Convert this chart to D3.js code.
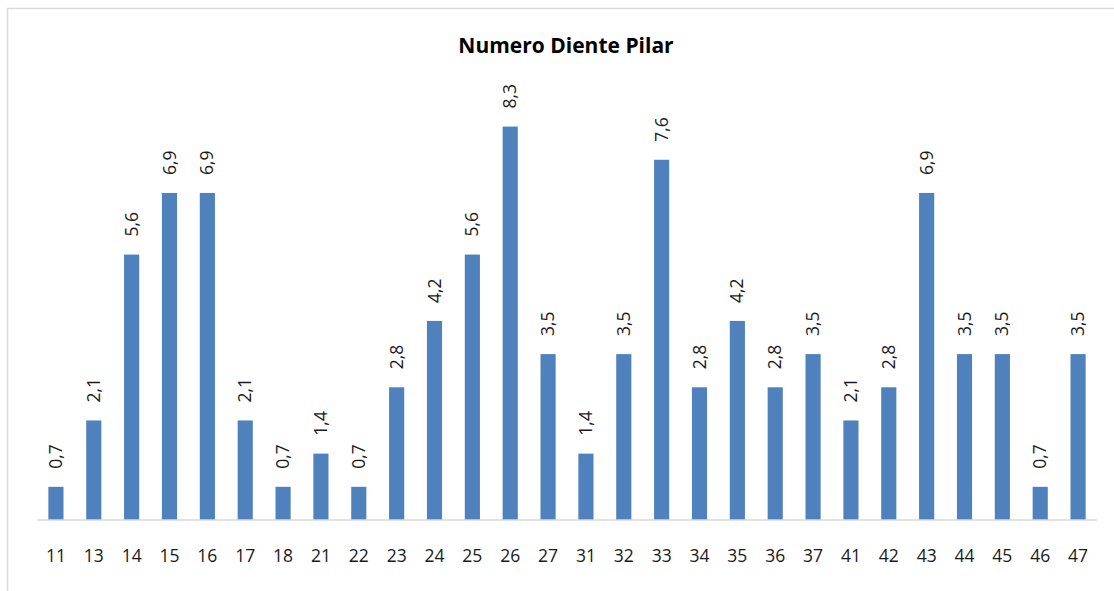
<!DOCTYPE html>
<html>
<head>
<meta charset="utf-8">
<script src="https://cdn.jsdelivr.net/npm/d3@7/dist/d3.min.js"></script>
<style>
  html, body { margin: 0; padding: 0; background: #fff; }
  svg { display: block; }
</style>
</head>
<body>
<svg id="chart" width="1114" height="591"></svg>
<script>
const title = "Numero Diente Pilar";
const categories = ["11","13","14","15","16","17","18","21","22","23","24","25","26","27","31","32","33","34","35","36","37","41","42","43","44","45","46","47"];
const values = [0.7,2.1,5.6,6.9,6.9,2.1,0.7,1.4,0.7,2.8,4.2,5.6,8.3,3.5,1.4,3.5,7.6,2.8,4.2,2.8,3.5,2.1,2.8,6.9,3.5,3.5,0.7,3.5];
const yDomain = [0, 9];

const svg = d3.select("#chart");
const font = "'Open Sans', 'Liberation Sans', sans-serif";

// chart border
svg.append("rect")
  .attr("x", 7.5).attr("y", 8.5)
  .attr("width", 1200).attr("height", 700)
  .attr("fill", "none").attr("stroke", "#d9d9d9").attr("stroke-width", 1.5);

const x = d3.scaleBand().domain(categories).range([37, 1097]).paddingInner(0.6).paddingOuter(0.3);
const y = d3.scaleLinear().domain(yDomain).range([520, 93.4]);

// bars
svg.append("g").selectAll("rect").data(values).join("rect")
  .attr("x", (d, i) => x(categories[i]))
  .attr("width", x.bandwidth())
  .attr("y", d => y(d))
  .attr("height", d => y(0) - y(d))
  .attr("fill", "#4f81bd");

// x axis
const xAxis = svg.append("g").attr("transform", `translate(0,${y(0)})`)
  .call(d3.axisBottom(x).tickSize(0).tickPadding(0));
xAxis.select(".domain").attr("stroke", "#d9d9d9").attr("stroke-width", 1.5)
  .attr("d", "M37,0H1097");
xAxis.selectAll("text")
  .attr("y", 36).attr("dy", "0.35em")
  .attr("font-family", font).attr("font-size", 17.5).attr("fill", "#1a1a1a");

// data labels
svg.append("g").selectAll("text").data(values).join("text")
  .attr("transform", (d, i) => `translate(${x(categories[i]) + x.bandwidth() / 2},${y(d) - 18}) rotate(-90)`)
  .attr("text-anchor", "start")
  .attr("dy", "0.35em")
  .attr("font-family", font).attr("font-size", 17.5).attr("fill", "#1a1a1a")
  .text(d => d.toFixed(1).replace(".", ","));

// title
svg.append("text")
  .attr("x", 566).attr("y", 53)
  .attr("text-anchor", "middle")
  .attr("font-family", font).attr("font-weight", "bold").attr("font-size", 21)
  .attr("fill", "#000")
  .text(title);
</script>
</body>
</html>
